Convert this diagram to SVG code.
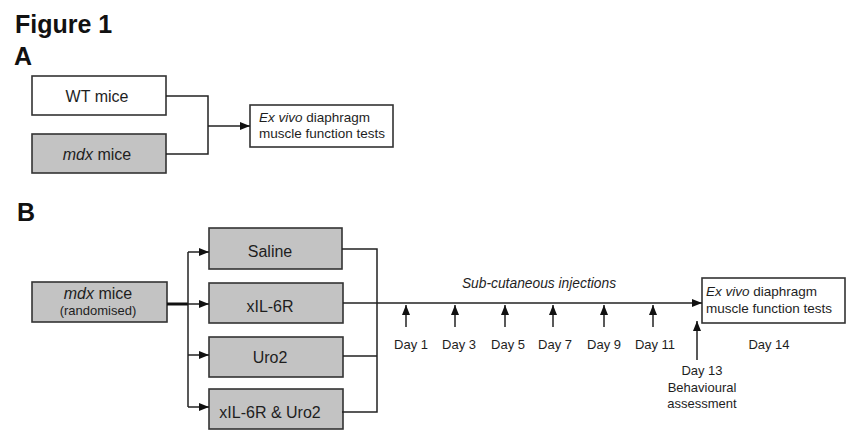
<svg xmlns="http://www.w3.org/2000/svg" width="849" height="435" viewBox="0 0 849 435">
<style>
text{font-family:"Liberation Sans",Arial,sans-serif;fill:#1e1e1e}
.h{font-weight:bold;font-size:25px;fill:#111}
.box{stroke:#333;stroke-width:1.6}
.g{fill:#c3c3c3}
.w{fill:#fff}
.lbl{font-size:16px;text-anchor:middle}
.sm{font-size:13px;text-anchor:middle}
.ev{font-size:13.5px}
.ln{stroke:#222;stroke-width:1.5;fill:none}
</style>
<defs>
<marker id="ah" markerUnits="userSpaceOnUse" markerWidth="10" markerHeight="8" refX="10" refY="4" orient="auto">
<path d="M0,0 L10,4 L0,8 z" fill="#111"/>
</marker>
</defs>
<rect width="849" height="435" fill="#fff"/>
<text class="h" x="15" y="33">Figure 1</text>
<text class="h" x="14" y="65">A</text>
<text class="h" x="17" y="221">B</text>

<g id="wt"><rect class="box w" x="32" y="76" width="134" height="39"/><text class="lbl" x="97" y="102">WT mice</text></g>
<g id="mdxA"><rect class="box g" x="32" y="134" width="134" height="39"/><text class="lbl" x="97" y="160"><tspan font-style="italic">mdx</tspan> mice</text></g>
<g id="exA"><rect class="box w" x="250" y="105" width="143" height="42"/><text class="ev" x="259" y="122"><tspan font-style="italic">Ex vivo</tspan> diaphragm</text><text class="ev" x="259" y="138">muscle function tests</text></g>

<g id="mdxB"><rect class="box g" x="32" y="282" width="135" height="40"/><text class="lbl" x="98" y="299"><tspan font-style="italic">mdx</tspan> mice</text><text class="sm" x="98" y="315">(randomised)</text></g>
<g id="saline"><rect class="box g" x="209" y="228" width="133" height="41"/><text class="lbl" x="270" y="257">Saline</text></g>
<g id="xil"><rect class="box g" x="209" y="283" width="134" height="40"/><text class="lbl" x="270" y="312">xIL-6R</text></g>
<g id="uro"><rect class="box g" x="209" y="337" width="134" height="40"/><text class="lbl" x="270" y="363">Uro2</text></g>
<g id="both"><rect class="box g" x="209" y="389" width="134" height="40"/><text class="lbl" x="270" y="418">xIL-6R  &amp; Uro2</text></g>
<g id="exB"><rect class="box w" x="702" y="278" width="143" height="45"/><text class="ev" x="706" y="296"><tspan font-style="italic">Ex vivo</tspan> diaphragm</text><text class="ev" x="706" y="313">muscle function tests</text></g>

<g id="connectors">
<path class="ln" d="M166,96 H208 V154 H166"/>
<path class="ln" d="M208,126 H250" marker-end="url(#ah)"/>
<path d="M167,304 H188" stroke="#111" stroke-width="3"/>
<path class="ln" d="M188,252 V407"/>
<path class="ln" d="M188,252 H209" marker-end="url(#ah)"/>
<path class="ln" d="M188,304 H209" marker-end="url(#ah)"/>
<path class="ln" d="M188,355 H209" marker-end="url(#ah)"/>
<path class="ln" d="M188,407 H209" marker-end="url(#ah)"/>
<path class="ln" d="M342,249 H377 V412 H342 M343,356 H377"/>
<path class="ln" d="M343,303 H702" marker-end="url(#ah)"/>
<path class="ln" d="M406,327 V305" marker-end="url(#ah)"/>
<path class="ln" d="M455,327 V305" marker-end="url(#ah)"/>
<path class="ln" d="M505,327 V305" marker-end="url(#ah)"/>
<path class="ln" d="M553,327 V305" marker-end="url(#ah)"/>
<path class="ln" d="M604,327 V305" marker-end="url(#ah)"/>
<path class="ln" d="M653,327 V305" marker-end="url(#ah)"/>
<path class="ln" d="M697,360 V321" marker-end="url(#ah)"/>
</g>

<text x="539" y="288" font-size="13.8" font-style="italic" text-anchor="middle">Sub-cutaneous injections</text>
<text class="sm" x="411" y="349">Day 1</text>
<text class="sm" x="459" y="349">Day 3</text>
<text class="sm" x="508" y="349">Day 5</text>
<text class="sm" x="555" y="349">Day 7</text>
<text class="sm" x="604" y="349">Day 9</text>
<text class="sm" x="655" y="349">Day 11</text>
<text class="sm" x="769" y="349">Day 14</text>
<text class="sm" x="702" y="375">Day 13</text>
<text class="sm" x="702" y="392">Behavioural</text>
<text class="sm" x="702" y="408">assessment</text>
</svg>
